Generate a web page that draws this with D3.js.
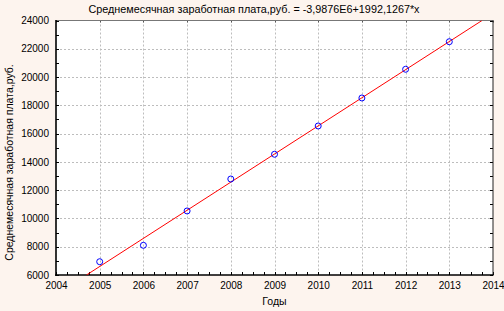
<!DOCTYPE html>
<html><head><meta charset="utf-8">
<script src="https://cdn.jsdelivr.net/npm/d3@7"></script>
<style>html,body{margin:0;padding:0;background:#fdf5ef;}svg{display:block;}text{font-family:"Liberation Sans",Arial,sans-serif;fill:#000;}</style>
</head><body><svg id="c" width="504" height="311"></svg>
<script>
const years = [2005, 2006, 2007, 2008, 2009, 2010, 2011, 2012, 2013];
const salary = [6940, 8100, 10530, 12790, 14540, 16540, 18520, 20550, 22500];
const xTicks = [2004, 2005, 2006, 2007, 2008, 2009, 2010, 2011, 2012, 2013, 2014];
const yTicks = [6000, 8000, 10000, 12000, 14000, 16000, 18000, 20000, 22000, 24000];
const titleText = "Среднемесячная заработная плата,руб. = -3,9876E6+1992,1267*x";
const xLabel = "Годы";
const yLabel = "Среднемесячная заработная плата,руб.";

const W = 504, H = 311;
const L = 56, R = 493, T = 20.5, B = 275;
const svg = d3.select("#c");
svg.append("rect").attr("width", W).attr("height", H).attr("fill", "#fdf4ee");

const x = d3.scaleLinear().domain([2004, 2014]).range([L, R]);
const y = d3.scaleLinear().domain([6000, 24000]).range([B, T]);

svg.append("rect").attr("x", L).attr("y", T).attr("width", R - L).attr("height", B - T).attr("fill", "#fff");

// grid
const g = svg.append("g");
g.selectAll("line.vg").data(xTicks.slice(1, -1)).enter().append("line")
  .attr("x1", d => Math.round(x(d)) + 0.5).attr("x2", d => Math.round(x(d)) + 0.5)
  .attr("y1", T).attr("y2", B).attr("stroke", "#bdbdbd").attr("stroke-dasharray", "2,2");
g.selectAll("line.hg").data(yTicks.slice(1, -1)).enter().append("line")
  .attr("y1", d => Math.round(y(d)) + 0.5).attr("y2", d => Math.round(y(d)) + 0.5)
  .attr("x1", L).attr("x2", R).attr("stroke", "#bdbdbd").attr("stroke-dasharray", "2,2");

// axes with inward ticks
const minorX = d3.range(2004, 2014.001, 0.25);
const minorY = d3.range(6000, 24001, 1000);
const bottomAxis = d3.axisBottom(x).tickValues(xTicks).tickSize(0).tickPadding(7).tickFormat(d3.format("d"));
const ba = svg.append("g").attr("transform", `translate(0,${B})`).call(bottomAxis);
ba.select(".domain").remove();
ba.selectAll("text").attr("font-size", "10px").attr("font-family", "Liberation Sans, Arial, sans-serif");
const leftAxis = d3.axisLeft(y).tickValues(yTicks).tickSize(0).tickPadding(7).tickFormat(d3.format("d"));
const la = svg.append("g").attr("transform", `translate(${L},0)`).call(leftAxis);
la.select(".domain").remove();
la.selectAll("text").attr("font-size", "10px").attr("font-family", "Liberation Sans, Arial, sans-serif");

const tk = svg.append("g").attr("stroke", "#000").attr("stroke-width", 1);
tk.selectAll("line.bx").data(minorX).enter().append("line")
  .attr("x1", d => Math.round(x(d)) + 0.5).attr("x2", d => Math.round(x(d)) + 0.5)
  .attr("y1", B).attr("y2", B - 3);
tk.selectAll("line.tx").data(xTicks).enter().append("line")
  .attr("x1", d => Math.round(x(d)) + 0.5).attr("x2", d => Math.round(x(d)) + 0.5)
  .attr("y1", T).attr("y2", T + 2).attr("stroke", "#555");
tk.selectAll("line.ly").data(minorY).enter().append("line")
  .attr("y1", d => Math.round(y(d)) + 0.5).attr("y2", d => Math.round(y(d)) + 0.5)
  .attr("x1", L).attr("x2", L + 3);
tk.selectAll("line.ry").data(minorY).enter().append("line")
  .attr("y1", d => Math.round(y(d)) + 0.5).attr("y2", d => Math.round(y(d)) + 0.5)
  .attr("x1", R).attr("x2", R - 3);

// frame
svg.append("line").attr("x1", L).attr("x2", R).attr("y1", T).attr("y2", T).attr("stroke", "#777").attr("stroke-width", 1);
svg.append("line").attr("x1", R).attr("x2", R).attr("y1", T).attr("y2", B).attr("stroke", "#222").attr("stroke-width", 1);
svg.append("line").attr("x1", L).attr("x2", L).attr("y1", T - 0.5).attr("y2", B + 1).attr("stroke", "#000").attr("stroke-width", 1.6);
svg.append("line").attr("x1", L - 0.8).attr("x2", R + 0.5).attr("y1", B).attr("y2", B).attr("stroke", "#000").attr("stroke-width", 1.6);

// regression line (least squares on data)
const mx = d3.mean(years), my = d3.mean(salary);
const slope = d3.sum(years, (d, i) => (d - mx) * (salary[i] - my)) / d3.sum(years, d => (d - mx) * (d - mx));
const icpt = my - slope * mx;
const x0 = (6000 - icpt) / slope, x1 = (24000 - icpt) / slope;
svg.append("defs").append("clipPath").attr("id", "clip").append("rect")
  .attr("x", L).attr("y", T).attr("width", R - L).attr("height", B - T);
svg.append("line").attr("clip-path", "url(#clip)")
  .attr("x1", x(x0)).attr("y1", y(6000)).attr("x2", x(x1)).attr("y2", y(24000))
  .attr("stroke", "#ff0000").attr("stroke-width", 1);

// points
svg.selectAll("circle.p").data(years).enter().append("circle")
  .attr("cx", d => x(d)).attr("cy", (d, i) => y(salary[i])).attr("r", 3)
  .attr("fill", "none").attr("stroke", "#0000ff").attr("stroke-width", 1);

// texts
svg.append("text").attr("x", 254).attr("y", 12.5).attr("text-anchor", "middle").attr("font-size", "10.8px").text(titleText);
svg.append("text").attr("x", 274.5).attr("y", 305).attr("text-anchor", "middle").attr("font-size", "10.5px").text(xLabel);
svg.append("text").attr("transform", "translate(13,162.5) rotate(-90)").attr("text-anchor", "middle").attr("font-size", "10.5px").text(yLabel);
</script></body></html>
